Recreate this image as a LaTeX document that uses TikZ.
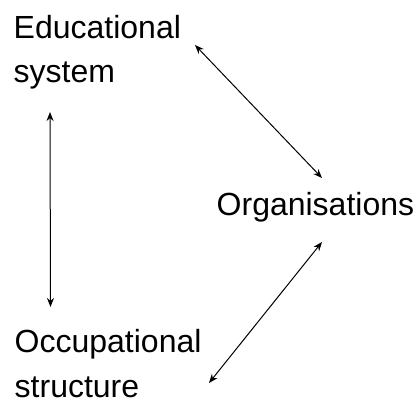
\documentclass[tikz,border=0pt]{standalone}
\usepackage{fontspec}
\setmainfont{Liberation Sans}
\usetikzlibrary{arrows.meta}

\tikzset{
	label/.style = {anchor = base west, inner sep = 0pt, align = left,
		font = \fontsize{32}{44.5}\selectfont},
	link/.style = {{Stealth[length = 9pt, width = 7pt]}-{Stealth[length = 9pt, width = 7pt]}, line width = 1pt}
}

\begin{document}
\begin{tikzpicture}[x = 1pt, y = -1pt]
		\useasboundingbox (0,0) rectangle (420,401);
		% base anchor sits on the last line
		\node[label] (edu) at (13.5,83) {Educational\\system};
		\node[label] (org) at (216.5,215.5) {Organisations};
		\node[label, text depth = 0pt] (occ) at (14.5,397) {Occupational\\structure};
		\coordinate (edu-r) at (195,45);
		\coordinate (edu-b) at (50,112);
		\coordinate (org-t) at (322,178);
		\coordinate (org-b) at (322,242);
		\coordinate (occ-t) at (50.5,307);
		\coordinate (occ-r) at (209,383);
		\draw[link] (edu-r) -- (org-t);
		\draw[link] (edu-b) -- (occ-t);
		\draw[link] (org-b) -- (occ-r);
	\end{tikzpicture}
\end{document}
